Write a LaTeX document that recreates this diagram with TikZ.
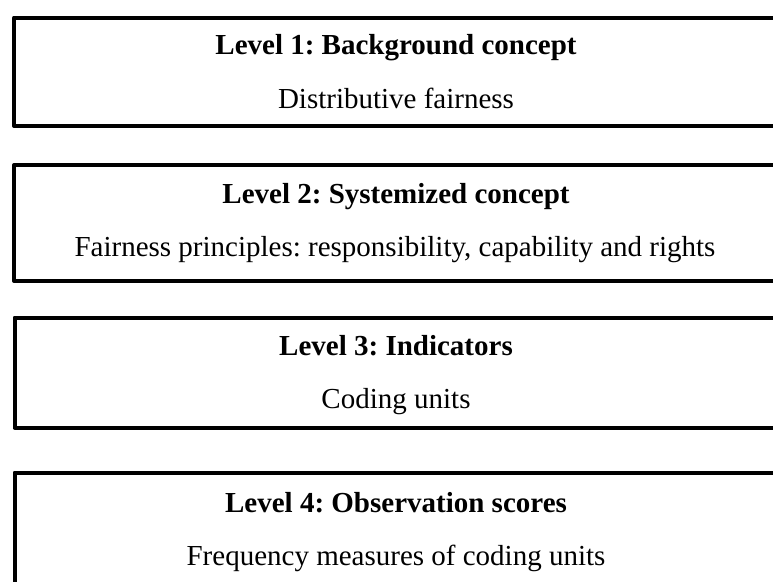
\documentclass[tikz,border=0pt]{standalone}
\usepackage{fontspec}
\setmainfont{Liberation Serif}
\frenchspacing
\begin{document}
\begin{tikzpicture}[x=1pt,y=-1pt,
  lvlbox/.style={draw, line width=4pt, line join=round, rectangle, inner sep=0pt, anchor=north west, minimum width=768pt},
  head/.style={font=\fontsize{29}{35}\selectfont\bfseries, anchor=base, inner sep=0pt},
  desc/.style={font=\fontsize{29}{35}\selectfont, anchor=base, inner sep=0pt}]
\useasboundingbox (0,0) rectangle (773,581);
\clip (0,0) rectangle (773,581);
% Level 1
\node[lvlbox, minimum height=108.5pt] (b1) at (12,15.5) {};
\node[head] (h1) at (396,54) {Level 1: Background concept};
\node[desc] (d1) at (396,108) {Distributive fairness};
% Level 2
\node[lvlbox, minimum height=116pt] (b2) at (12,163) {};
\node[head] (h2) at (396,203) {Level 2: Systemized concept};
\node[desc] (d2) at (395,256) {Fairness principles: responsibility, capability and rights};
% Level 3
\node[lvlbox, minimum height=110pt] (b3) at (12.5,315.5) {};
\node[head] (h3) at (396,355) {Level 3: Indicators};
\node[desc] (d3) at (396,408) {Coding units};
% Level 4
\node[lvlbox, minimum height=130pt] (b4) at (12.5,470.5) {};
\node[head] (h4) at (396,512) {Level 4: Observation scores};
\node[desc] (d4) at (396,565) {Frequency measures of coding units};
\end{tikzpicture}
\end{document}
